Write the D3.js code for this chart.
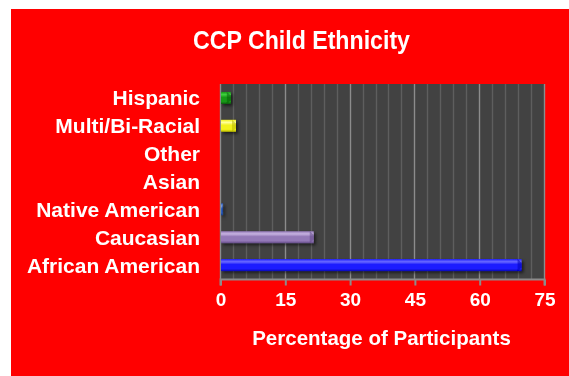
<!DOCTYPE html>
<html>
<head>
<meta charset="utf-8">
<script src="https://cdn.jsdelivr.net/npm/d3@7"></script>
<style>
  html, body { margin: 0; padding: 0; background: #ff0000; overflow: hidden; }
  svg { display: block; }
  text { font-family: "Liberation Sans", Arial, Helvetica, sans-serif; font-weight: bold; fill: #ffffff; }
</style>
</head>
<body>
<svg id="chart" width="569" height="376"></svg>
<script>
// Ethnicity categories, top to bottom
const categories = ["Hispanic", "Multi/Bi-Racial", "Other", "Asian", "Native American", "Caucasian", "African American"];
// Percentage of participants in each category
const values = [2.5, 3.7, 0, 0, 0.7, 21.7, 69.8];
// Major tick labels on the percentage axis
const xTicks = [0, 15, 30, 45, 60, 75];
// Minor gridline step
const minorStep = 3;

// Bar fills: [highlight, base, shade]
const palette = [
  ["#3fd23f", "#179a17", "#0b5e0b"],
  ["#ffff9a", "#f2f21a", "#b8b800"],
  ["#9a9aff", "#2a2aff", "#0000b0"],
  ["#9a9aff", "#2a2aff", "#0000b0"],
  ["#7f9fe0", "#2f5fbf", "#143a80"],
  ["#c6b2e0", "#9479b8", "#634a86"],
  ["#6a6aff", "#1e1eff", "#0000b8"]
];

const svg = d3.select("#chart");
const plot = { left: 220, right: 545, top: 84, bottom: 279 };

// Background panel with white margin on the left and top
svg.append("rect").attr("x", 0).attr("y", 0).attr("width", 569).attr("height", 376)
  .attr("fill", "#ffffff");
svg.append("rect").attr("x", 11).attr("y", 9).attr("width", 569 - 11).attr("height", 376 - 9)
  .attr("fill", "#ff0000");

const x = d3.scaleLinear().domain([0, 75]).range([plot.left, plot.right - 1]);
const y = d3.scaleBand().domain(categories).range([plot.top, plot.bottom])
  .paddingInner(0.57).paddingOuter(0.285);

const defs = svg.append("defs");
palette.forEach((c, i) => {
  const g = defs.append("linearGradient").attr("id", "bar" + i)
    .attr("x1", 0).attr("y1", 0).attr("x2", 0).attr("y2", 1);
  g.append("stop").attr("offset", "0%").attr("stop-color", c[1]);
  g.append("stop").attr("offset", "22%").attr("stop-color", c[0]);
  g.append("stop").attr("offset", "45%").attr("stop-color", c[1]);
  g.append("stop").attr("offset", "80%").attr("stop-color", c[1]);
  g.append("stop").attr("offset", "100%").attr("stop-color", c[2]);
});
const shadow = defs.append("filter").attr("id", "shadow")
  .attr("x", "-10%").attr("y", "-40%").attr("width", "130%").attr("height", "200%");
shadow.append("feDropShadow").attr("dx", 2).attr("dy", 2).attr("stdDeviation", 1.5)
  .attr("flood-color", "#000").attr("flood-opacity", 0.55);

// Plot area
svg.append("rect").attr("x", plot.left).attr("y", plot.top)
  .attr("width", plot.right - plot.left).attr("height", plot.bottom - plot.top)
  .attr("fill", "#424242");

// Minor gridlines
const minor = d3.range(0, 75 + 0.001, minorStep).filter(v => v % 15 !== 0);
svg.append("g").selectAll("line").data(minor).join("line")
  .attr("x1", d => Math.round(x(d)) + 0.5).attr("x2", d => Math.round(x(d)) + 0.5)
  .attr("y1", plot.top).attr("y2", plot.bottom)
  .attr("stroke", "#5e5e5e").attr("stroke-width", 1.4);

// Major gridlines
svg.append("g").selectAll("line").data(xTicks).join("line")
  .attr("x1", d => Math.round(x(d)) + 0.5).attr("x2", d => Math.round(x(d)) + 0.5)
  .attr("y1", plot.top).attr("y2", plot.bottom)
  .attr("stroke", "#8c8c8c").attr("stroke-width", 1.4);

// Bars
const bars = svg.append("g").attr("filter", "url(#shadow)");
categories.forEach((cat, i) => {
  const v = values[i];
  if (v <= 0) return;
  const x0 = x(0) + 1;
  const w = x(v) - x0;
  const y0 = y(cat);
  const h = y.bandwidth();
  bars.append("rect").attr("x", x0).attr("y", y0).attr("width", w).attr("height", h)
    .attr("fill", `url(#bar${i})`);
  // bevelled end cap
  const cap = Math.min(4, w / 2);
  bars.append("path")
    .attr("d", `M${x0 + w - cap},${y0} L${x0 + w},${y0 + h * 0.3} L${x0 + w},${y0 + h * 0.7} L${x0 + w - cap},${y0 + h} Z`)
    .attr("fill", palette[i][2]).attr("opacity", 0.55);
});

// Axis
const axis = d3.axisBottom(x).tickValues(xTicks).tickSize(6).tickPadding(7).tickFormat(d3.format("d"));
const ax = svg.append("g").attr("transform", `translate(0.5,${plot.bottom + 0.5})`).call(axis);
ax.select(".domain").attr("stroke", "#8c8c8c").attr("stroke-width", 2)
  .attr("d", `M${plot.left},6V0H${plot.right - 1}V6`);
ax.selectAll(".tick line").attr("stroke", "#8c8c8c").attr("stroke-width", 2);
ax.selectAll(".tick text").attr("font-size", 19).attr("fill", "#ffffff")
  .style("font-family", "'Liberation Sans', Arial, sans-serif").style("font-weight", "bold");

// Category labels
svg.append("g").selectAll("text").data(categories).join("text")
  .attr("x", 200).attr("y", d => y(d) + y.bandwidth() / 2 + 7.5)
  .attr("text-anchor", "end").attr("font-size", 21)
  .text(d => d);

// Title
svg.append("text").attr("x", 301.5).attr("y", 49).attr("text-anchor", "middle")
  .attr("font-size", 26).attr("textLength", 217).attr("lengthAdjust", "spacingAndGlyphs")
  .text("CCP Child Ethnicity");

// Axis title
svg.append("text").attr("x", 381.5).attr("y", 345).attr("text-anchor", "middle")
  .attr("font-size", 20.5).text("Percentage of Participants");
</script>
</body>
</html>
